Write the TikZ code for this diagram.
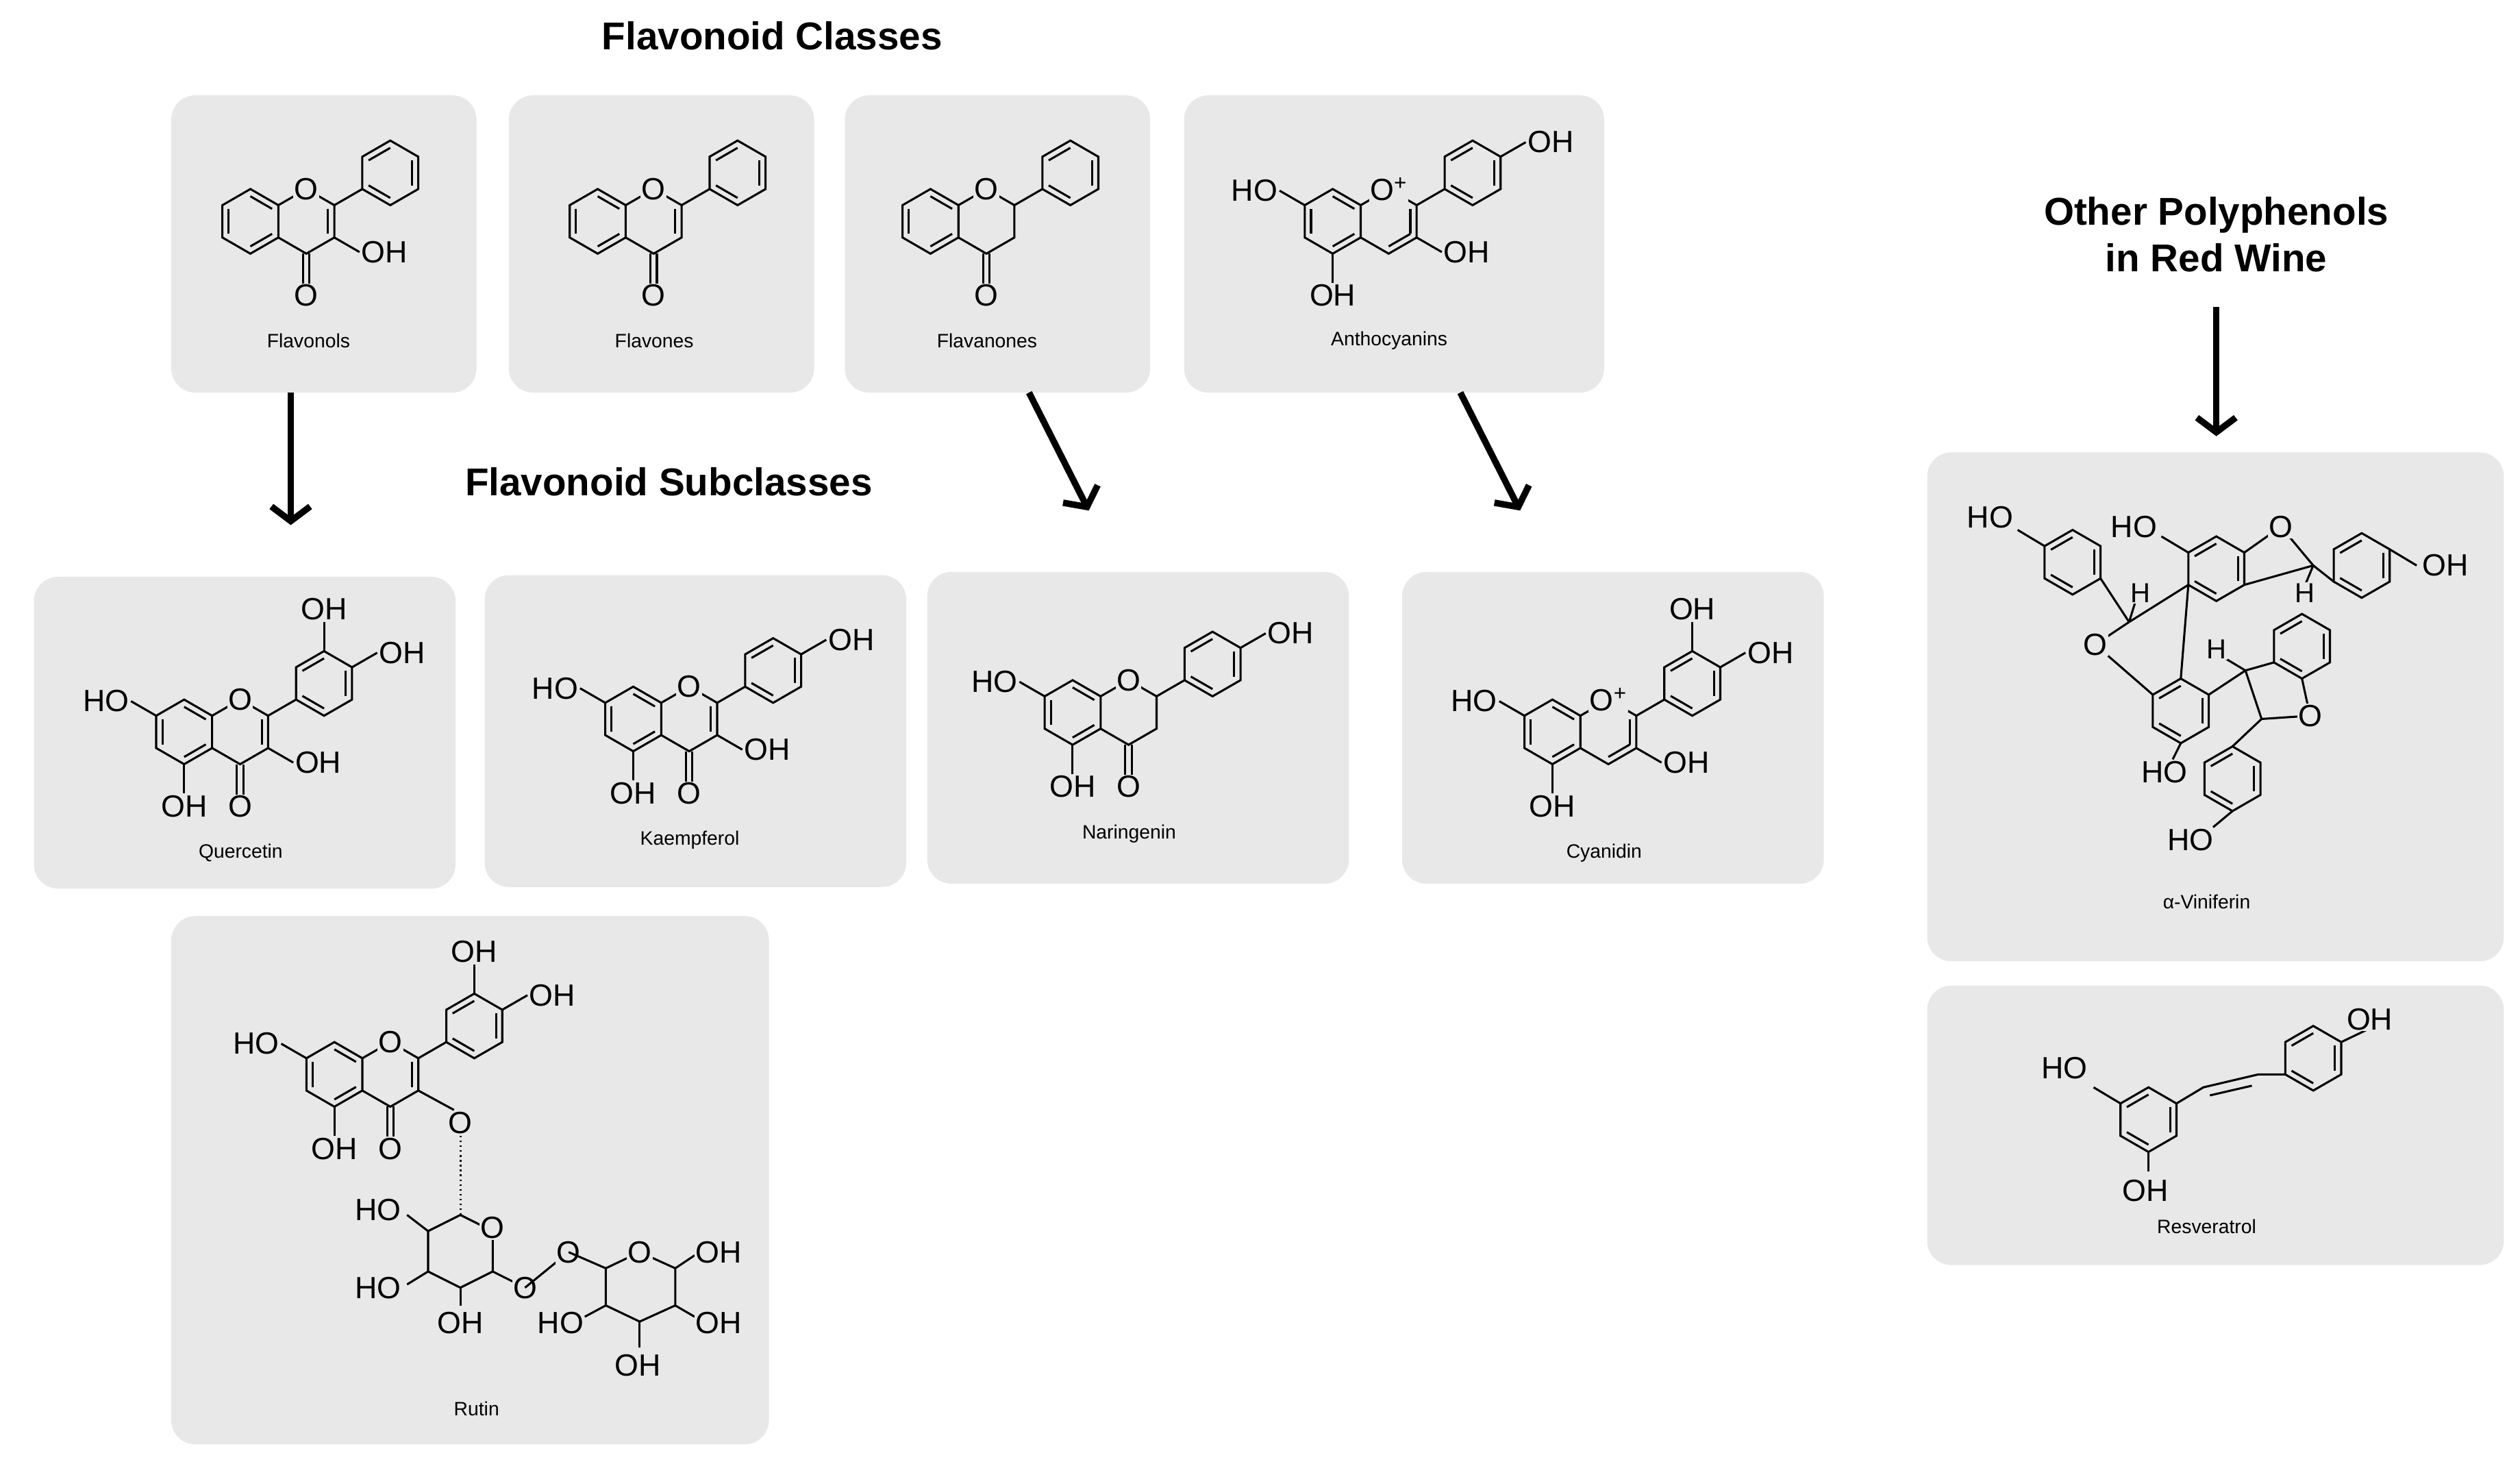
\documentclass[tikz,border=0pt]{standalone}
\usepackage{fontspec}
\setmainfont{Liberation Sans}
\usetikzlibrary{calc,arrows.meta}
\definecolor{boxgray}{RGB}{232,232,232}
\newcommand\hx[1]{\draw (#1)+(-90:20)--+(-30:20)--+(30:20)--+(90:20)--+(150:20)--+(210:20)--cycle;}
\newcommand\db[3]{\draw (#1)+(#2:15.5)--+(#3:15.5);}
\newcommand\sub[4]{\draw ($(#1)+(#2:20)$)--($(#1)+(#2:38)$); \node[atom,anchor=#4] at ($(#1)+(#2:38)$) {#3};}
\newcommand\core[3]{%
 \coordinate (A) at (#1,#2); \coordinate (C) at (#1+34.64,#2); \coordinate (B) at (#1+86.6,#2-30);
 \hx{A}\db{A}{150}{210}\db{A}{-90}{-30}\db{A}{30}{90}
 \draw (C)+(-90:20)--+(-30:20)--+(30:20)--+(90:20)--+(150:20) (C)+(210:20)--+(-90:20);
 \hx{B}\db{B}{210}{-90}\db{B}{-30}{30}\db{B}{90}{150}
 \draw ($(C)+(-30:20)$)--($(B)+(150:20)$);
 \ifx#3y\db{C}{-30}{30}\fi
 \ifx#3p\db{C}{-30}{30}\db{C}{30}{90}\fi}
\newcommand\oxy[1]{\node[atom] at ($(C)+(-90:20)$) {#1};}
\newcommand\carb{\draw ($(C)+(-2,20)$)--($(C)+(-2,40)$) ($(C)+(2,20)$)--($(C)+(2,40)$); \node[atom,anchor=north] at ($(C)+(0,38)$) {O};}
\begin{document}
\begin{tikzpicture}[x=1pt,y=-1pt,line width=1.3pt,
 box/.style={fill=boxgray,rounded corners=15pt,draw=none},
 atom/.style={fill=boxgray,inner sep=0.6pt,font=\fontsize{19}{19}\selectfont},
 hat/.style={atom,font=\fontsize{17}{17}\selectfont},
 lbl/.style={font=\fontsize{12}{12}\selectfont},
 ttl/.style={font=\fontsize{24}{29}\selectfont\bfseries,align=center},
 arr/.style={line width=4pt,-{Straight Barb[length=9pt,width=24pt]}}]
\useasboundingbox (0,0) rectangle (1560,914);
% boxes
\path[box] (106,59) rectangle (295,243);
\path[box] (315,59) rectangle (504,243);
\path[box] (523,59) rectangle (712,243);
\path[box] (733,59) rectangle (993,243);
\path[box] (21,357) rectangle (282,550);
\path[box] (300,356) rectangle (561,549);
\path[box] (574,354) rectangle (835,547);
\path[box] (868,354) rectangle (1129,547);
\path[box] (106,567) rectangle (476,894);
\path[box] (1193,280) rectangle (1550,595);
\path[box] (1193,610) rectangle (1550,783);
% titles
\node[ttl] (t1) at (478,22) {Flavonoid Classes};
\node[ttl] (t2) at (414,298) {Flavonoid Subclasses};
\node[ttl] (t3) at (1372,145) {Other Polyphenols\\in Red Wine};
% arrows
\coordinate (a1s) at (180,243); \coordinate (a1e) at (180,325);
\coordinate (a2s) at (637,243); \coordinate (a2e) at (674,316);
\coordinate (a3s) at (904,243); \coordinate (a3e) at (941,316);
\coordinate (a4s) at (1372,190); \coordinate (a4e) at (1372,270);
\draw[arr] (a1s)--(a1e); \draw[arr] (a2s)--(a2e); \draw[arr] (a3s)--(a3e); \draw[arr] (a4s)--(a4e);
% Flavonols
\core{155}{137}{y}\oxy{O}\carb\sub{C}{30}{OH}{west}
\node[lbl] (n1) at (191,211) {Flavonols};
% Flavones
\core{370}{137}{y}\oxy{O}\carb
\node[lbl] (n2) at (405,211) {Flavones};
% Flavanones
\core{576}{137}{n}\oxy{O}\carb
\node[lbl] (n3) at (611,211) {Flavanones};
% Anthocyanins
\core{825}{137}{p}\oxy{O\textsuperscript{+}}\sub{C}{30}{OH}{west}\sub{A}{210}{HO}{east}\sub{A}{90}{OH}{north}\sub{B}{-30}{OH}{west}
\node[lbl] (n4) at (860,211) {Anthocyanins};
% Quercetin
\core{114}{453}{y}\oxy{O}\carb\sub{C}{30}{OH}{west}\sub{A}{210}{HO}{east}\sub{A}{90}{OH}{north}\sub{B}{-90}{OH}{south}\sub{B}{-30}{OH}{west}
\node[lbl] (n5) at (149,528) {Quercetin};
% Kaempferol
\core{392}{445}{y}\oxy{O}\carb\sub{C}{30}{OH}{west}\sub{A}{210}{HO}{east}\sub{A}{90}{OH}{north}\sub{B}{-30}{OH}{west}
\node[lbl] (n6) at (427,520) {Kaempferol};
% Naringenin
\core{664}{441}{n}\oxy{O}\carb\sub{A}{210}{HO}{east}\sub{A}{90}{OH}{north}\sub{B}{-30}{OH}{west}
\node[lbl] (n7) at (699,516) {Naringenin};
% Cyanidin
\core{961}{453}{p}\oxy{O\textsuperscript{+}}\sub{C}{30}{OH}{west}\sub{A}{210}{HO}{east}\sub{A}{90}{OH}{north}\sub{B}{-90}{OH}{south}\sub{B}{-30}{OH}{west}
\node[lbl] (n8) at (993,528) {Cyanidin};
% Rutin
\core{207}{665}{y}\oxy{O}\carb\sub{A}{210}{HO}{east}\sub{A}{90}{OH}{north}\sub{B}{-90}{OH}{south}\sub{B}{-30}{OH}{west}
\draw ($(C)+(30:20)$)--(281,687);
\node[atom] (ro1) at (285,695) {O};
\draw[dash pattern=on 1pt off 2pt] (ro1)--(285,752);
\draw (265,762)--(285,752)--(305,762)--(305,787)--(285,797)--(265,787)--cycle;
\node[atom] at (305,760) {O};
\draw (265,762)--(252,752); \node[atom] at (234,749) {HO};
\draw (265,787)--(252,795); \node[atom] at (234,797) {HO};
\draw (285,797)--(285,808); \node[atom] at (285,819) {OH};
\draw (305,787)--(325,797); \node[atom] at (325,797) {O};
\draw (325,797)--(352,775); \node[atom] at (352,775) {O};
\draw (352,775)--(375,785);
\draw (375,785)--(396,775)--(418,785)--(418,808)--(396,818)--(375,808)--cycle;
\node[atom] at (396,775) {O};
\draw (418,785)--(430,777); \node[atom] at (445,775) {OH};
\draw (375,808)--(362,815); \node[atom] at (347,819) {HO};
\draw (418,808)--(430,815); \node[atom] at (445,819) {OH};
\draw (396,818)--(396,834); \node[atom] at (395,845) {OH};
\node[lbl] (n9) at (295,872) {Rutin};
% alpha-Viniferin
\coordinate (P1) at (1283,348); \hx{P1}\db{P1}{210}{-90}\db{P1}{-30}{30}\db{P1}{90}{150}
\coordinate (M1) at (1372,352); \hx{M1}\db{M1}{210}{-90}\db{M1}{-30}{30}\db{M1}{90}{150}
\coordinate (P2) at (1462,350); \hx{P2}\db{P2}{210}{-90}\db{P2}{-30}{30}\db{P2}{90}{150}
\coordinate (L) at (1350,440); \hx{L}\db{L}{210}{-90}\db{L}{-30}{30}\db{L}{90}{150}
\coordinate (R) at (1425,400); \hx{R}\db{R}{210}{-90}\db{R}{-30}{30}\db{R}{90}{150}
\coordinate (P3) at (1382,482); \hx{P3}\db{P3}{210}{-90}\db{P3}{-30}{30}\db{P3}{90}{150}
\draw ($(P1)+(210:20)$)--(1249,328); \node[atom] at (1232,320) {HO};
\draw ($(P1)+(30:20)$)--(1318,385);
\draw (1318,385)--($(M1)+(150:20)$);
\draw (1318,385)--(1297,399)--($(L)+(210:20)$);
\draw ($(M1)+(150:20)$)--($(L)+(-90:20)$);
\node[atom] at (1297,399) {O};
\draw (1318,385)--(1322,372); \node[hat] at (1325,367) {H};
\draw ($(M1)+(210:20)$)--(1338,332); \node[atom] at (1321,326) {HO};
\draw ($(M1)+(-30:20)$)--(1412,326)--(1432,350)--($(M1)+(30:20)$);
\node[atom] at (1412,326) {O};
\draw (1432,350)--($(P2)+(150:20)$);
\draw ($(P2)+(-30:20)$)--(1496,350); \node[atom] at (1514,350) {OH};
\draw (1432,350)--(1427,362); \node[hat] at (1427,367) {H};
\draw ($(L)+(-30:20)$)--(1390,415)--($(R)+(150:20)$);
\draw (1390,415)--(1375,406); \node[hat] at (1372,402) {H};
\draw (1390,415)--(1400,445)--(1430,443)--($(R)+(90:20)$);
\node[atom] at (1430,443) {O};
\draw (1400,445)--($(P3)+(-90:20)$);
\draw ($(L)+(90:20)$)--(1345,470); \node[atom] at (1340,478) {HO};
\draw ($(P3)+(90:20)$)--(1370,512); \node[atom] at (1356,520) {HO};
\node[lbl] (n10) at (1366,558) {α-Viniferin};
% Resveratrol
\coordinate (S1) at (1330,693); \hx{S1}\db{S1}{210}{-90}\db{S1}{-30}{30}\db{S1}{90}{150}
\coordinate (S2) at (1432,655); \hx{S2}\db{S2}{210}{-90}\db{S2}{-30}{30}\db{S2}{90}{150}
\draw ($(S1)+(210:20)$)--(1296,673); \node[atom] at (1278,661) {HO};
\draw ($(S1)+(90:20)$)--(1330,725); \node[atom] at (1328,737) {OH};
\draw ($(S1)+(-30:20)$)--(1364,673)--(1398,665)--($(S2)+(150:20)$);
\draw (1368,678)--(1394,672);
\draw ($(S2)+(-30:20)$)--(1466,637); \node[atom] at (1467,631) {OH};
\node[lbl] (n11) at (1366,759) {Resveratrol};
\end{tikzpicture}
\end{document}
